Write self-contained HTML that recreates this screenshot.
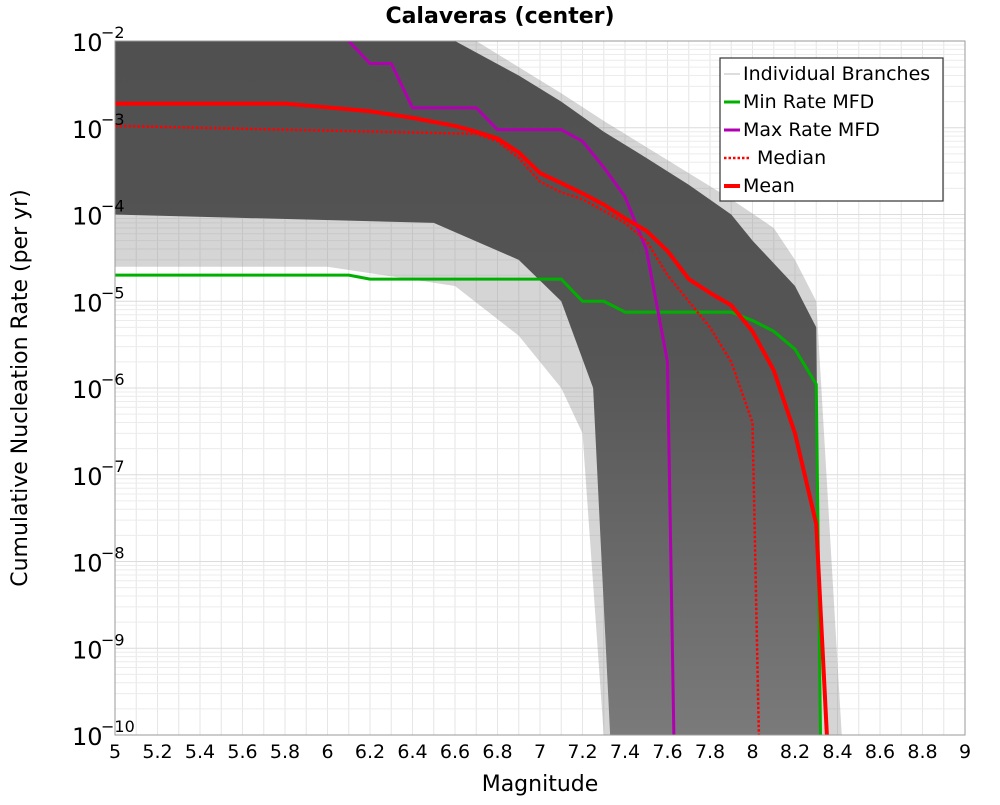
<!DOCTYPE html>
<html><head><meta charset="utf-8"><style>
body{margin:0;background:#fff;font-family:"Liberation Sans","DejaVu Sans",sans-serif}
svg text{font-family:"DejaVu Sans","Liberation Sans",sans-serif}
</style></head><body>
<svg id="chart" width="1000" height="800" xmlns="http://www.w3.org/2000/svg">
<defs><linearGradient id="cg" x1="0" y1="41" x2="0" y2="735" gradientUnits="userSpaceOnUse"><stop offset="0" stop-color="#505050"/><stop offset="0.45" stop-color="#555"/><stop offset="1" stop-color="#7a7a7a"/></linearGradient></defs>
<rect width="1000" height="800" fill="#fff"/>
<text x="500" y="23" text-anchor="middle" font-size="22" font-weight="bold">Calaveras (center)</text>
<text transform="translate(27,388) rotate(-90)" text-anchor="middle" font-size="22">Cumulative Nucleation Rate (per yr)</text>
<text x="540" y="791" text-anchor="middle" font-size="22">Magnitude</text>
<g id="grid"></g>
<g id="plot"></g>
<rect x="115" y="41" width="850" height="694" fill="none" stroke="#999" stroke-width="1"/>
<g id="ticks"></g>
<g>
<rect x="720" y="58" width="223" height="143" fill="#fff" stroke="#333" stroke-width="1.2"/>
<line x1="724" y1="74" x2="740" y2="74" stroke="#bbb" stroke-width="1"/><text x="743" y="80" font-size="19">Individual Branches</text>
<line x1="724" y1="102" x2="740" y2="102" stroke="#00b000" stroke-width="3"/><text x="743" y="108" font-size="19">Min Rate MFD</text>
<line x1="724" y1="130" x2="740" y2="130" stroke="#b000b0" stroke-width="3"/><text x="743" y="136" font-size="19">Max Rate MFD</text>
<line x1="724" y1="158" x2="750" y2="158" stroke="#f00" stroke-width="2.5" stroke-dasharray="2.5,2"/><text x="757" y="164" font-size="19">Median</text>
<line x1="724" y1="186" x2="740" y2="186" stroke="#f00" stroke-width="4"/><text x="743" y="192" font-size="19">Mean</text>
</g>
</svg>
<script>
const xTicks=[5,5.2,5.4,5.6,5.8,6,6.2,6.4,6.6,6.8,7,7.2,7.4,7.6,7.8,8,8.2,8.4,8.6,8.8,9];
const xTickLabels=["5","5.2","5.4","5.6","5.8","6","6.2","6.4","6.6","6.8","7","7.2","7.4","7.6","7.8","8","8.2","8.4","8.6","8.8","9"];
const yExps=[-2,-3,-4,-5,-6,-7,-8,-9,-10];
const meanM=[5,5.8,6.2,6.4,6.6,6.7,6.8,6.9,7.0,7.1,7.2,7.3,7.4,7.5,7.6,7.7,7.8,7.9,8.0,8.1,8.2,8.3,8.35];
const meanV=[1.9e-3,1.9e-3,1.55e-3,1.3e-3,1.05e-3,9e-4,7.5e-4,5.2e-4,3e-4,2.3e-4,1.75e-4,1.3e-4,9e-5,6.5e-5,3.8e-5,1.8e-5,1.25e-5,9e-6,4.5e-6,1.6e-6,3e-7,2.7e-8,1e-10];
const medM=[5,6.7,6.8,6.9,7.0,7.1,7.2,7.3,7.4,7.5,7.6,7.7,7.8,7.9,8.0,8.03];
const medV=[1.05e-3,8.5e-4,7e-4,4.5e-4,2.4e-4,1.8e-4,1.5e-4,1.1e-4,8e-5,5e-5,2e-5,1e-5,5e-6,2e-6,4e-7,1e-10];
const maxM=[6.0,6.1,6.2,6.3,6.4,6.7,6.8,7.1,7.2,7.3,7.4,7.5,7.6,7.63];
const maxV=[1.5e-2,1e-2,5.5e-3,5.5e-3,1.7e-3,1.7e-3,9.5e-4,9.5e-4,7e-4,3.5e-4,1.6e-4,4e-5,2e-6,1e-10];
const minM=[5,6.1,6.2,7.1,7.2,7.3,7.4,7.9,8.0,8.1,8.2,8.3,8.32];
const minV=[2e-5,2e-5,1.8e-5,1.8e-5,1e-5,1e-5,7.5e-6,7.5e-6,6e-6,4.5e-6,2.8e-6,1.1e-6,1e-10];
const envUpM=[5,6.7,6.9,7.1,7.3,7.5,7.7,7.9,8.1,8.2,8.3,8.42];
const envUpV=[1e-2,1e-2,5e-3,2.5e-3,1.2e-3,6e-4,3e-4,1.5e-4,7e-5,3e-5,1e-5,1e-10];
const envLoM=[5,6.0,6.6,6.9,7.1,7.2,7.3];
const envLoV=[2.5e-5,2.5e-5,1.5e-5,4e-6,1e-6,3e-7,1e-10];
const coreUpM=[5,6.6,6.9,7.1,7.3,7.5,7.7,7.9,8.0,8.2,8.3,8.32];
const coreUpV=[1e-2,1e-2,4e-3,2e-3,9e-4,4.5e-4,2.2e-4,1e-4,5e-5,1.5e-5,5e-6,1e-10];
const coreLoM=[5,6.5,6.9,7.1,7.25,7.33];
const coreLoV=[1e-4,8e-5,3e-5,1e-5,1e-6,1e-10];

const X=m=>115+(m-5)*212.5;
const Y=v=>41+(-2-Math.log10(v))*86.75;
const NS="http://www.w3.org/2000/svg";
function mk(tag,attrs,parent){const e=document.createElementNS(NS,tag);for(const k in attrs)e.setAttribute(k,attrs[k]);parent.appendChild(e);return e;}
const grid=document.getElementById('grid'),plot=document.getElementById('plot'),ticks=document.getElementById('ticks');
for(let m=5;m<=9.001;m+=0.1){const l=mk('line',{x1:X(m),x2:X(m),y1:41,y2:735,stroke:'#e6e6e6','stroke-width':1},grid);

}
for(let e=-10;e<-2;e++){for(let k=1;k<10;k++){const v=k*Math.pow(10,e);const l=mk('line',{x1:115,x2:965,y1:Y(v),y2:Y(v),stroke:k==1?'#dcdcdc':'#ececec','stroke-width':1},grid);

}}
const clip=mk('clipPath',{id:'pc'},plot);mk('rect',{x:115,y:41,width:850,height:694},clip);
const g=mk('g',{'clip-path':'url(#pc)'},plot);
function poly(upM,upV,loM,loV){let p=upM.map((m,i)=>X(m)+','+Y(upV[i]));p.push(X(upM[upM.length-1])+',740');p.push(X(loM[loM.length-1])+',740');for(let i=loM.length-1;i>=0;i--)p.push(X(loM[i])+','+Y(loV[i]));return p.join(' ');}
const env=mk('polygon',{points:poly(envUpM,envUpV,envLoM,envLoV),fill:'#888','fill-opacity':0.35},g);


const core=mk('polygon',{points:poly(coreUpM,coreUpV,coreLoM,coreLoV),fill:'url(#cg)'},g);


function line(ms,vs,color,w,dash,name){const pts=ms.map((m,i)=>X(m)+','+Math.min(Y(vs[i]),745)).join(' ');const a={points:pts,fill:'none',stroke:color,'stroke-width':w,'stroke-linejoin':'round'};if(dash)a['stroke-dasharray']=dash;const e=mk('polyline',a,g);

}
line(minM,minV,'#00b000',3,null,'min-rate-line');
line(maxM,maxV,'#b000b0',3,null,'max-rate-line');
line(medM,medV,'#f00',2.5,'2.5,2','median-line');
line(meanM,meanV,'#f00',4,null,'mean-line');
xTicks.forEach((m,i)=>{const t=mk('text',{x:X(m),y:758,'text-anchor':'middle','font-size':19},ticks);t.textContent=xTickLabels[i];

});
yExps.forEach(e=>{const y=Y(Math.pow(10,e));const t=mk('text',{x:72,y:y+10,'font-size':24},ticks);t.textContent='10';


const s=mk('text',{x:101,y:y-3,'font-size':16},ticks);s.textContent=String(e).replace('-','\u2212');

});
</script>
</body></html>
